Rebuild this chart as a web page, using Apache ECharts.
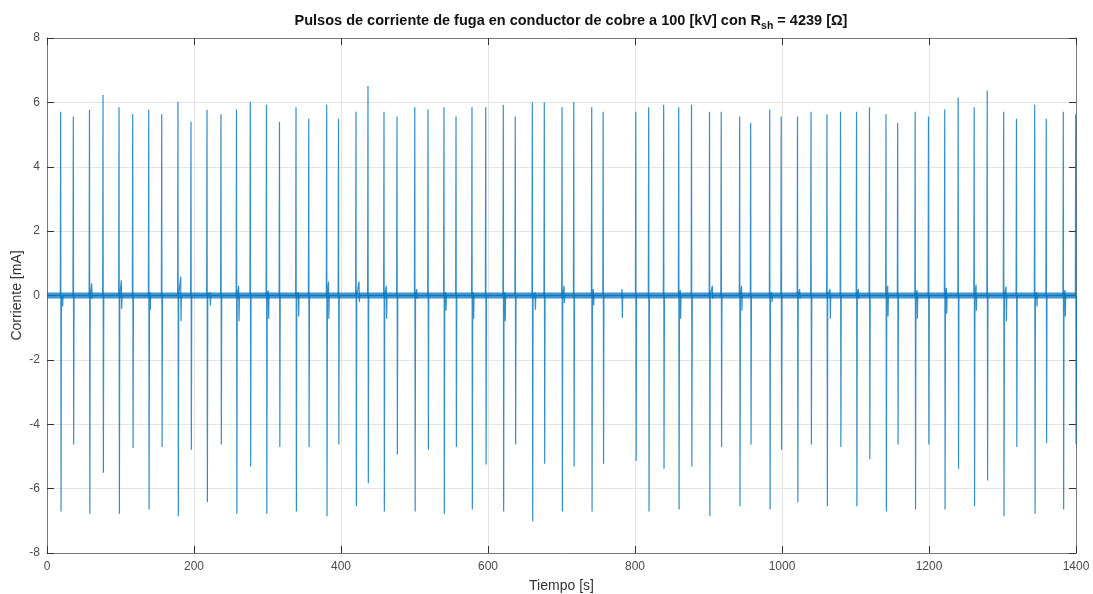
<!DOCTYPE html>
<html>
<head>
<meta charset="utf-8">
<script src="https://cdn.jsdelivr.net/npm/echarts@6/dist/echarts.min.js"></script>
<style>
html, body { margin: 0; padding: 0; background: #fff; }
#chart { width: 1093px; height: 594px; }
</style>
</head>
<body>
<div id="chart"></div>
<script>
// instantes de cada pulso [s], pico positivo y pico negativo [mA]
var pulseT = [18.6, 35.8, 57.8, 76.2, 98.0, 116.6, 138.4, 156.1, 178.2, 195.9,
	217.7, 236.7, 257.8, 276.6, 298.6, 316.3, 338.8, 356.1, 380.5, 396.6,
	420.4, 436.7, 458.5, 476.2, 500.4, 518.4, 540.1, 556.5, 578.2, 596.9,
	620.8, 637.1, 660.3, 676.6, 700.7, 716.7, 741.1, 756.7, 801.1, 818.6,
	839.0, 859.5, 876.9, 901.4, 917.3, 942.4, 957.4, 983.3, 998.9, 1021.1,
	1039.5, 1061.2, 1079.6, 1101.4, 1119.0, 1141.5, 1157.4, 1181.2, 1199.3, 1221.4,
	1239.7, 1261.5, 1279.2, 1301.6, 1319.0, 1343.8, 1359.5, 1382.7, 1399.6];
var pulsePos = [5.71, 5.56, 5.77, 6.23, 5.85, 5.63, 5.77, 5.63, 6.02, 5.40,
	5.77, 5.63, 5.78, 6.02, 5.93, 5.40, 5.85, 5.49, 5.93, 5.49,
	5.71, 6.51, 5.71, 5.56, 5.85, 5.78, 5.85, 5.56, 5.85, 5.85,
	5.93, 5.56, 6.00, 6.00, 5.85, 6.00, 5.85, 5.71, 5.71, 5.85,
	5.93, 5.85, 5.93, 5.71, 5.71, 5.56, 5.36, 5.78, 5.56, 5.56,
	5.71, 5.63, 5.71, 5.71, 5.85, 5.63, 5.36, 5.71, 5.56, 5.78,
	6.15, 5.85, 6.37, 5.71, 5.49, 5.93, 5.49, 5.71, 5.63];
var pulseNeg = [-6.71, -4.63, -6.78, -5.51, -6.78, -4.74, -6.65, -4.71, -6.86, -4.79,
	-6.42, -4.63, -6.78, -5.31, -6.78, -4.71, -6.71, -4.71, -6.86, -4.63,
	-6.55, -5.83, -6.71, -4.94, -6.71, -4.79, -6.78, -4.71, -6.65, -5.25,
	-6.71, -4.63, -7.01, -5.23, -6.71, -5.31, -6.71, -5.23, -5.14, -6.71,
	-5.38, -6.65, -5.31, -6.86, -4.71, -6.55, -4.63, -6.65, -4.79, -6.42,
	-4.63, -6.55, -4.71, -6.55, -5.09, -6.71, -4.63, -6.65, -4.63, -6.65,
	-5.38, -6.55, -5.75, -6.86, -4.71, -6.78, -4.58, -6.65, -4.63];

// pequeñas oscilaciones despues de algunos pulsos
var blipT = [20.8, 60.8, 101.1, 140.1, 181.9, 221.8, 260.8, 301.1, 341.9, 383.0,
	424.5, 461.6, 503.0, 542.4, 580.0, 623.0, 664.0, 703.4, 743.3, 782.3,
	861.6, 905.2, 945.0, 986.0, 1024.0, 1065.3, 1103.8, 1143.8, 1183.7, 1223.6,
	1264.0, 1304.8, 1346.5, 1385.0];
var blipHi = [0.05, 0.38, 0.47, 0.10, 0.59, 0.10, 0.30, 0.15, 0.10, 0.43,
	0.43, 0.30, 0.20, 0.10, 0.10, 0.10, 0.10, 0.30, 0.20, 0.20,
	0.17, 0.30, 0.30, 0.10, 0.20, 0.20, 0.20, 0.30, 0.17, 0.24,
	0.33, 0.28, 0.10, 0.17];
var blipLo = [-0.34, -0.10, -0.41, -0.44, -0.80, -0.31, -0.80, -0.72, -0.65, -0.72,
	-0.20, -0.72, -0.10, -0.47, -0.72, -0.80, -0.44, -0.23, -0.30, -0.70,
	-0.72, -0.10, -0.47, -0.20, -0.10, -0.72, -0.10, -0.65, -0.72, -0.57,
	-0.47, -0.80, -0.34, -0.65];

// tramo de ruido de fondo (inicio y fin de la medicion)
var ruidoT = [0, 1400];

var xTicks = [0, 200, 400, 600, 800, 1000, 1200, 1400];
var yTicks = [-8, -6, -4, -2, 0, 2, 4, 6, 8];

// armar la señal
var señal = [];
for (var i = 0; i < pulseT.length; i++) {
	señal.push([pulseT[i] - 0.5, 0]);
	señal.push([pulseT[i], pulsePos[i]]);
	señal.push([pulseT[i] + 0.5, pulseNeg[i]]);
	señal.push([pulseT[i] + 1.0, 0]);
}
for (var j = 0; j < blipT.length; j++) {
	señal.push([blipT[j] - 0.4, 0]);
	señal.push([blipT[j], blipHi[j]]);
	señal.push([blipT[j] + 0.5, blipLo[j]]);
	señal.push([blipT[j] + 1.0, 0]);
}
señal.sort(function(a, b) { return a[0] - b[0]; });
señal.unshift([ruidoT[0], 0]);

var ruido = [];
for (var k = 0; k < ruidoT.length; k++) {
	ruido.push([ruidoT[k], 0]);
}

var txt = '#4a4a4a';
var ejeCol = '#7a7a7a';
var gridCol = '#e4e4e4';
var fuente = 'Liberation Sans';

function sinComas(v) {
	return String(v);
}

function ejeX(pos, conTexto) {
	return {
		type : 'value',
		position : pos,
		min : xTicks[0],
		max : xTicks[xTicks.length - 1],
		interval : 200,
		axisLine : { show : true, onZero : false, lineStyle : { color : ejeCol, width : 1 } },
		axisTick : { show : true, inside : true, length : 7, lineStyle : { color : '#333' } },
		axisLabel : { show : conTexto, color : txt, fontSize : 12, margin : 8, formatter : sinComas },
		splitLine : { show : conTexto, lineStyle : { color : gridCol, width : 1 } }
	};
}

function ejeY(pos, conTexto) {
	return {
		type : 'value',
		position : pos,
		min : yTicks[0],
		max : yTicks[yTicks.length - 1],
		interval : 2,
		axisLine : { show : true, onZero : false, lineStyle : { color : ejeCol, width : 1 } },
		axisTick : { show : true, inside : true, length : 7, lineStyle : { color : '#333' } },
		axisLabel : { show : conTexto, color : txt, fontSize : 12, margin : 7, formatter : sinComas },
		splitLine : { show : conTexto, lineStyle : { color : gridCol, width : 1 } }
	};
}

var xInf = ejeX('bottom', true);
xInf.name = 'Tiempo [s]';
xInf.nameLocation = 'middle';
xInf.nameGap = 26;
xInf.nameTextStyle = { color : '#333', fontSize : 14 };

var yIzq = ejeY('left', true);
yIzq.name = 'Corriente [mA]';
yIzq.nameLocation = 'middle';
yIzq.nameGap = 23;
yIzq.nameMoveOverlap = false;
yIzq.nameTextStyle = { color : '#333', fontSize : 14 };

var chart = echarts.init(document.getElementById('chart'));
var option = {
	animation : false,
	textStyle : { fontFamily : fuente },
	title : {
		text : '{a|Pulsos de corriente de fuga en conductor de cobre a 100 [kV] con R}{s|sh}{a| = 4239 [Ω]}',
		left : 566,
		textAlign : 'center',
		top : 7,
		textStyle : {
			rich : {
				a : { fontSize : 14.5, fontWeight : 'bold', color : '#111', fontFamily : fuente, lineHeight : 18 },
				s : { fontSize : 10.5, fontWeight : 'bold', color : '#111', fontFamily : fuente, padding : [10, 0, 0, 0], lineHeight : 18 }
			}
		}
	},
	grid : { left : 47, right : 17, top : 38, bottom : 41, containLabel : false, outerBoundsMode : 'none' },
	xAxis : [ xInf, ejeX('top', false) ],
	yAxis : [ yIzq, ejeY('right', false) ],
	series : [ {
		name : 'ruido',
		type : 'line',
		data : ruido,
		symbol : 'none',
		silent : true,
		lineStyle : { color : '#0072BD', width : 6, opacity : 0.75 }
	}, {
		name : 'corriente',
		type : 'line',
		data : señal,
		symbol : 'none',
		sampling : null,
		silent : true,
		lineStyle : { color : '#0072BD', width : 1.2, opacity : 0.8 }
	} ]
};
chart.setOption(option);
</script>
</body>
</html>
